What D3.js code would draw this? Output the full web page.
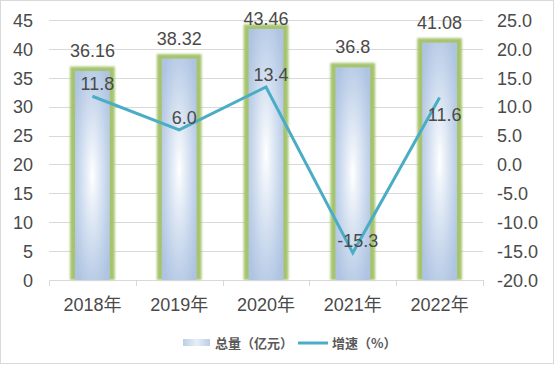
<!DOCTYPE html>
<html><head><meta charset="utf-8">
<script src="https://cdn.jsdelivr.net/npm/d3@7"></script>
<style>
html,body{margin:0;padding:0;background:#fff;}
svg text{font-family:"Liberation Sans","Noto Sans CJK SC",sans-serif;}
</style></head>
<body>
<svg id="chart" width="556" height="366"></svg>
<script>
const categories = ["2018年","2019年","2020年","2021年","2022年"];
const totals = [36.16, 38.32, 43.46, 36.8, 41.08];
const growth = [11.8, 6.0, 13.4, -15.3, 11.6];
const leftTicks = [0,5,10,15,20,25,30,35,40,45];
const rightTicks = [-20,-15,-10,-5,0,5,10,15,20,25];
const seriesNames = ["总量（亿元）","增速（%）"];
const lineLabelPlacement = ["above","above","above","above","below"];

const svg = d3.select("#chart");
const W = 556, H = 366;
const plot = {l:49, r:483, t:20, b:280};
const textColor = "#4a4a4a";
const fmt1 = d => d.toFixed(1);

// chart border
svg.append("rect").attr("x",0.5).attr("y",0.5).attr("width",W-3).attr("height",H-3)
  .attr("fill","#fff").attr("stroke","#d9d9d9");

const defs = svg.append("defs");
const grad = defs.append("radialGradient").attr("id","barGrad")
  .attr("cx","0.5").attr("cy","0.5").attr("r","0.62");
grad.append("stop").attr("offset","0%").attr("stop-color","#ffffff");
grad.append("stop").attr("offset","30%").attr("stop-color","#e3ebf6");
grad.append("stop").attr("offset","70%").attr("stop-color","#c2d3ea");
grad.append("stop").attr("offset","100%").attr("stop-color","#afc4e2");
const lg = defs.append("linearGradient").attr("id","legGrad");
lg.append("stop").attr("offset","0%").attr("stop-color","#bccee6");
lg.append("stop").attr("offset","50%").attr("stop-color","#e8eef7");
lg.append("stop").attr("offset","100%").attr("stop-color","#bccee6");
const blur = defs.append("filter").attr("id","glow").attr("x","-30%").attr("y","-30%").attr("width","160%").attr("height","160%");
blur.append("feGaussianBlur").attr("stdDeviation",1.2);

const x = d3.scaleBand().domain(categories).range([plot.l, plot.r]).paddingInner(0.6).paddingOuter(0.3);
const yL = d3.scaleLinear().domain([0,45]).range([plot.b, plot.t]);
const yR = d3.scaleLinear().domain([-20,25]).range([plot.b, plot.t]);

// gridlines
svg.append("g").selectAll("line").data(leftTicks.filter(d=>d>0)).join("line")
  .attr("x1",plot.l).attr("x2",plot.r).attr("y1",d=>Math.round(yL(d))+0.5).attr("y2",d=>Math.round(yL(d))+0.5)
  .attr("stroke","#d9d9d9").attr("stroke-width",1);

// left axis
const axL = svg.append("g").attr("transform",`translate(${plot.l-16},0)`)
  .call(d3.axisLeft(yL).tickValues(leftTicks).tickSize(0).tickPadding(0));
axL.select(".domain").remove();
axL.selectAll("text").attr("fill",textColor).attr("font-size",18).attr("dy","0.35em");

// right axis
const axR = svg.append("g").attr("transform",`translate(${plot.r+14},0)`)
  .call(d3.axisRight(yR).tickValues(rightTicks).tickFormat(fmt1).tickSize(0).tickPadding(0));
axR.select(".domain").remove();
axR.selectAll("text").attr("fill",textColor).attr("font-size",18).attr("dy","0.35em");

// bars
const bw = x.bandwidth();
const bars = svg.append("g");
bars.selectAll("rect.glow").data(totals).join("rect").attr("class","glow")
  .attr("x",(d,i)=>x(categories[i])-5).attr("width",bw+10)
  .attr("y",d=>yL(d)-4.5).attr("height",d=>yL(0)-yL(d)+4.5)
  .attr("fill","#a6c46e").attr("filter","url(#glow)");
bars.selectAll("rect.inner").data(totals).join("rect").attr("class","inner")
  .attr("x",(d,i)=>x(categories[i])).attr("width",bw)
  .attr("y",d=>yL(d)).attr("height",d=>yL(0)-yL(d))
  .attr("fill","url(#barGrad)");

// x axis
const axX = svg.append("g").attr("transform",`translate(0,${plot.b})`)
  .call(d3.axisBottom(x).tickSize(0).tickPadding(18));
axX.select(".domain").attr("stroke","#d9d9d9").attr("d",`M${plot.l},0.5H${plot.r}`);
axX.selectAll("text").attr("fill",textColor).attr("font-size",18);
const step = x.step();
svg.append("g").selectAll("line").data(d3.range(categories.length+1)).join("line")
  .attr("x1",i=>Math.round(plot.l+i*step)+0.5).attr("x2",i=>Math.round(plot.l+i*step)+0.5)
  .attr("y1",plot.b).attr("y2",plot.b+6).attr("stroke","#d9d9d9");

// bar labels
svg.append("g").selectAll("text").data(totals).join("text")
  .attr("x",(d,i)=>x(categories[i])+bw/2)
  .attr("y",d=>Math.max(yL(d)-14, 25))
  .attr("text-anchor","middle").attr("font-size",18).attr("fill",textColor)
  .text(d=>d);

// line
const cx = i => x(categories[i]) + bw/2;
svg.append("path").datum(growth)
  .attr("d", d3.line().x((d,i)=>cx(i)).y(d=>yR(d)))
  .attr("fill","none").attr("stroke","#4bacc6").attr("stroke-width",3).attr("stroke-linejoin","miter");

svg.append("g").selectAll("text").data(growth).join("text")
  .attr("x",(d,i)=>cx(i)+5)
  .attr("y",(d,i)=> lineLabelPlacement[i]==="above" ? yR(d)-6 : yR(d)+24)
  .attr("text-anchor","middle").attr("font-size",18).attr("fill",textColor)
  .text(fmt1);

// legend
const lgG = svg.append("g");
lgG.append("rect").attr("x",183).attr("y",339).attr("width",27).attr("height",7).attr("fill","url(#legGrad)");
lgG.append("text").attr("x",215).attr("y",348).attr("font-size",13).attr("font-weight","bold")
  .attr("fill","#595959").style("font-family","'Noto Sans CJK SC',sans-serif").text(seriesNames[0]);
lgG.append("line").attr("x1",298).attr("x2",328).attr("y1",343).attr("y2",343).attr("stroke","#4bacc6").attr("stroke-width",3);
lgG.append("text").attr("x",332).attr("y",348).attr("font-size",13).attr("font-weight","bold")
  .attr("fill","#595959").style("font-family","'Noto Sans CJK SC',sans-serif").text(seriesNames[1]);
</script>
</body></html>
